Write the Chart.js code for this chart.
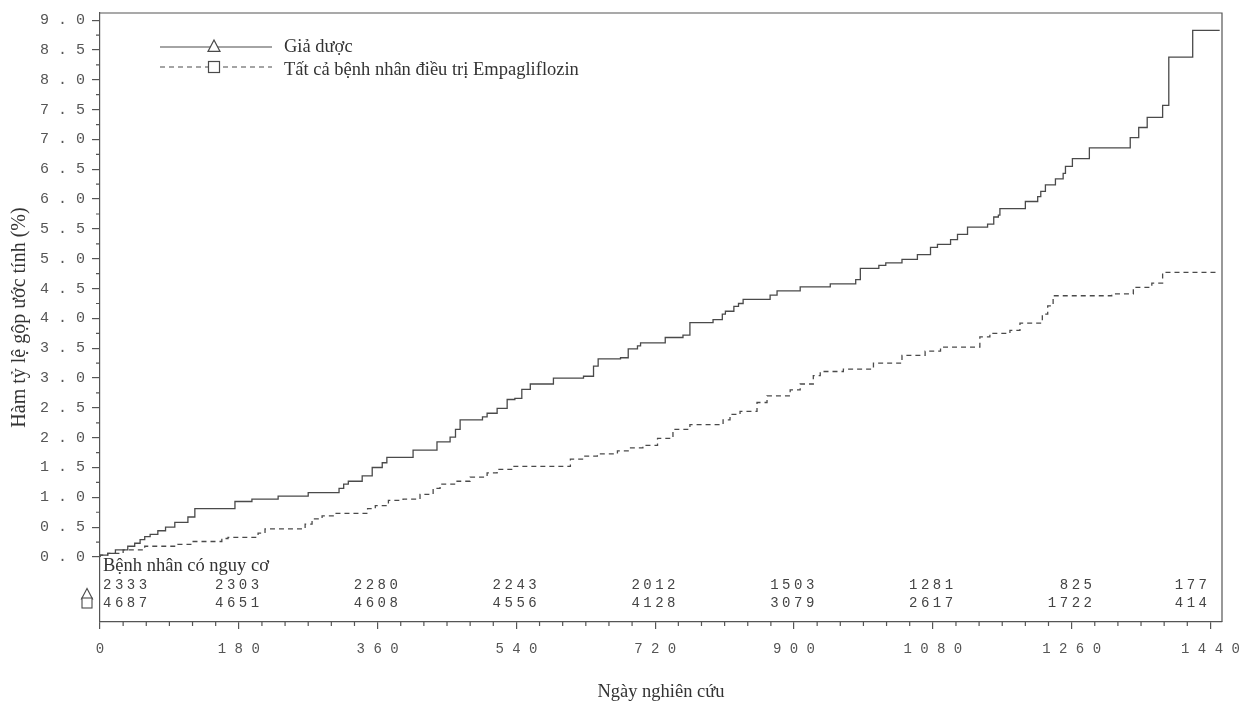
<!DOCTYPE html>
<html>
<head>
<meta charset="utf-8">
<script src="https://cdn.jsdelivr.net/npm/chart.js@4"></script>
<style>
  html, body { margin: 0; padding: 0; background: #fff; }
  #chart { display: block; }
</style>
</head>
<body>
<canvas id="chart" width="1243" height="708"></canvas>
<script>
// cumulative incidence step data (day, %)
const placeboDays = [0, 10, 20, 36, 45, 52, 58, 65, 75, 85, 97, 114, 123, 175, 197, 231, 270, 310, 316, 322, 340, 353, 366, 372, 406, 437, 454, 461, 467, 496, 502, 515, 528, 538, 547, 558, 588, 627, 640, 646, 675, 685, 697, 701, 733, 756, 765, 795, 807, 811, 822, 828, 834, 869, 878, 908, 947, 980, 986, 1010, 1019, 1040, 1060, 1077, 1086, 1103, 1112, 1125, 1151, 1159, 1165, 1167, 1200, 1216, 1220, 1226, 1239, 1249, 1252, 1261, 1283, 1336, 1347, 1358, 1378, 1386, 1417, 1436, 1452]
const placeboRate = [0, 0.03, 0.06, 0.12, 0.18, 0.23, 0.29, 0.34, 0.38, 0.44, 0.50, 0.58, 0.67, 0.81, 0.93, 0.97, 1.02, 1.08, 1.15, 1.22, 1.27, 1.36, 1.50, 1.58, 1.67, 1.79, 1.93, 2.01, 2.14, 2.30, 2.35, 2.41, 2.49, 2.64, 2.66, 2.81, 2.90, 3.00, 3.03, 3.20, 3.32, 3.34, 3.49, 3.54, 3.59, 3.68, 3.72, 3.93, 3.98, 4.07, 4.12, 4.20, 4.25, 4.32, 4.39, 4.46, 4.53, 4.58, 4.65, 4.84, 4.89, 4.93, 4.99, 5.07, 5.19, 5.24, 5.32, 5.41, 5.53, 5.58, 5.70, 5.73, 5.84, 5.96, 6.04, 6.13, 6.24, 6.34, 6.43, 6.55, 6.68, 6.86, 7.03, 7.20, 7.37, 7.57, 8.38, 8.83, 8.83]

const empaDays = [0, 10, 30, 58, 101, 119, 158, 166, 205, 214, 266, 275, 288, 305, 347, 357, 374, 393, 415, 432, 441, 463, 480, 502, 515, 536, 610, 627, 645, 671, 688, 704, 723, 743, 765, 808, 817, 830, 852, 865, 895, 908, 925, 934, 964, 1003, 1040, 1070, 1090, 1141, 1154, 1180, 1193, 1222, 1229, 1236, 1312, 1340, 1364, 1378, 1400, 1450]
const empaRate = [0, 0.03, 0.06, 0.12, 0.18, 0.21, 0.26, 0.31, 0.33, 0.40, 0.47, 0.55, 0.64, 0.69, 0.73, 0.81, 0.86, 0.95, 0.97, 1.05, 1.15, 1.22, 1.27, 1.34, 1.41, 1.47, 1.52, 1.64, 1.69, 1.73, 1.78, 1.83, 1.87, 1.99, 2.14, 2.22, 2.30, 2.39, 2.44, 2.59, 2.70, 2.80, 2.90, 3.04, 3.11, 3.15, 3.25, 3.38, 3.45, 3.52, 3.69, 3.75, 3.80, 3.92, 4.07, 4.21, 4.38, 4.41, 4.52, 4.59, 4.77, 4.77]

// patients at risk
const riskDays = [0, 180, 360, 540, 720, 900, 1080, 1260, 1440]
const riskPlacebo = [2333, 2303, 2280, 2243, 2012, 1503, 1281, 825, 177]
const riskEmpa = [4687, 4651, 4608, 4556, 4128, 3079, 2617, 1722, 414]

const xTickValues = [0, 180, 360, 540, 720, 900, 1080, 1260, 1440]
const yTickValues = [0, 0.5, 1, 1.5, 2, 2.5, 3, 3.5, 4, 4.5, 5, 5.5, 6, 6.5, 7, 7.5, 8, 8.5, 9]

const seriesNames = ['Giả dược', 'Tất cả bệnh nhân điều trị Empagliflozin']
const riskTitle = 'Bệnh nhân có nguy cơ'

const ink = '#4a4a4a'
const serif = '"Liberation Serif", "DejaVu Serif", serif'
const mono = '"Liberation Mono", "DejaVu Sans Mono", monospace'

const spaced = s => String(s).split('').join(' ')

const drawTriangle = (ctx, x, y, r) => {
  ctx.beginPath()
  ctx.moveTo(x, y - r)
  ctx.lineTo(x - r, y + r * 0.9)
  ctx.lineTo(x + r, y + r * 0.9)
  ctx.closePath()
  ctx.fillStyle = '#fff'
  ctx.fill()
  ctx.stroke()
}
const drawSquare = (ctx, x, y, r) => {
  ctx.fillStyle = '#fff'
  ctx.fillRect(x - r, y - r, 2 * r, 2 * r)
  ctx.strokeRect(x - r, y - r, 2 * r, 2 * r)
}

const extras = {
  id: 'extras',
  afterDraw(chart) {
    const { ctx, chartArea: a, scales: { x, y } } = chart
    ctx.save()
    ctx.strokeStyle = '#555'
    ctx.lineWidth = 1.2

    // box top and right
    ctx.beginPath()
    ctx.moveTo(a.left, a.top)
    ctx.lineTo(a.right, a.top)
    ctx.lineTo(a.right, a.bottom)
    ctx.stroke()

    // minor ticks
    ctx.beginPath()
    for (let i = 0; i < yTickValues.length - 1; i++) {
      const py = y.getPixelForValue((yTickValues[i] + yTickValues[i + 1]) / 2)
      ctx.moveTo(a.left, py)
      ctx.lineTo(a.left - 4, py)
    }
    for (let i = 0; i < xTickValues.length - 1; i++) {
      const step = (xTickValues[i + 1] - xTickValues[i]) / 6
      for (let k = 1; k < 6; k++) {
        const px = x.getPixelForValue(xTickValues[i] + k * step)
        ctx.moveTo(px, a.bottom)
        ctx.lineTo(px, a.bottom + 4)
      }
    }
    ctx.stroke()

    // legend
    ctx.strokeStyle = ink
    ctx.lineWidth = 1.2
    const rows = [47, 67]
    ctx.beginPath()
    ctx.moveTo(160, rows[0]); ctx.lineTo(272, rows[0])
    ctx.stroke()
    ctx.setLineDash([5, 4])
    ctx.beginPath()
    ctx.moveTo(160, rows[1]); ctx.lineTo(272, rows[1])
    ctx.stroke()
    ctx.setLineDash([])
    drawTriangle(ctx, 214, rows[0] - 1, 6)
    drawSquare(ctx, 214, rows[1], 5.5)
    ctx.fillStyle = '#333'
    ctx.font = '18.5px ' + serif
    ctx.textAlign = 'left'
    ctx.textBaseline = 'middle'
    ctx.fillText(seriesNames[0], 284, rows[0])
    ctx.fillText(seriesNames[1], 284, rows[1] + 3)

    // at-risk table
    ctx.textBaseline = 'alphabetic'
    ctx.fillText(riskTitle, a.left + 3, 571)
    ctx.font = '14px ' + mono
    ctx.fillStyle = '#444'
    if ('letterSpacing' in ctx) ctx.letterSpacing = '3.5px'
    const rowY = [589, 607]
    const series = [riskPlacebo, riskEmpa]
    series.forEach((vals, r) => {
      vals.forEach((v, i) => {
        const s = String(v).padStart(4, ' ')
        const px = x.getPixelForValue(riskDays[i])
        const w = ctx.measureText(s).width
        let left
        if (i === 0) left = px + 3
        else if (i === vals.length - 1) left = px - w
        else left = px - w / 2
        ctx.textAlign = 'left'
        ctx.fillText(s, left, rowY[r])
      })
    })
    if ('letterSpacing' in ctx) ctx.letterSpacing = '0px'
    ctx.strokeStyle = ink
    ctx.lineWidth = 1.1
    drawTriangle(ctx, 87, 594, 5.5)
    drawSquare(ctx, 87, 603, 5)

    ctx.restore()
  }
}

const toPoints = (days, vals) => days.map((d, i) => ({ x: d, y: vals[i] }))

new Chart(document.getElementById('chart').getContext('2d'), {
  type: 'line',
  data: {
    datasets: [{
      label: seriesNames[0],
      data: toPoints(placeboDays, placeboRate),
      stepped: 'after',
      borderColor: ink,
      borderWidth: 1.3,
      pointRadius: 0,
      fill: false
    }, {
      label: seriesNames[1],
      data: toPoints(empaDays, empaRate),
      stepped: 'after',
      borderColor: ink,
      borderWidth: 1.3,
      borderDash: [5, 4],
      pointRadius: 0,
      fill: false
    }]
  },
  options: {
    responsive: false,
    animation: false,
    layout: { padding: { top: 13, right: 21, left: 0, bottom: 0 } },
    plugins: {
      legend: { display: false },
      tooltip: { enabled: false }
    },
    scales: {
      x: {
        type: 'linear',
        min: 0,
        max: 1455,
        afterBuildTicks: s => { s.ticks = xTickValues.map(v => ({ value: v })) },
        afterFit: s => { s.height = 86; s.paddingLeft = 0; s.paddingRight = 0 },
        border: { color: '#555', width: 1.2 },
        grid: { drawOnChartArea: false, drawTicks: true, tickLength: 7, color: '#555', lineWidth: 1.2 },
        ticks: {
          padding: 12,
          maxRotation: 0,
          autoSkip: false,
          color: '#555',
          font: { family: mono, size: 14 },
          callback: v => spaced(v)
        },
        title: {
          display: true,
          text: 'Ngày nghiên cứu',
          color: '#333',
          font: { family: serif, size: 18.5 },
          padding: { top: 0, bottom: 5 }
        }
      },
      y: {
        type: 'linear',
        min: -1.09,
        max: 9.12,
        afterBuildTicks: s => { s.ticks = yTickValues.map(v => ({ value: v })) },
        afterFit: s => { s.width = 100; s.paddingTop = 0; s.paddingBottom = 0 },
        border: { color: '#555', width: 1.2 },
        grid: { drawOnChartArea: false, drawTicks: true, tickLength: 8, color: '#555', lineWidth: 1.2 },
        ticks: {
          padding: 7,
          autoSkip: false,
          color: '#555',
          font: { family: mono, size: 15 },
          callback: v => spaced(v.toFixed(1))
        },
        title: {
          display: true,
          text: 'Hàm tỷ lệ gộp ước tính (%)',
          color: '#333',
          font: { family: serif, size: 20 },
          padding: { top: 8, bottom: 0 }
        }
      }
    }
  },
  plugins: [extras]
})
</script>
</body>
</html>
